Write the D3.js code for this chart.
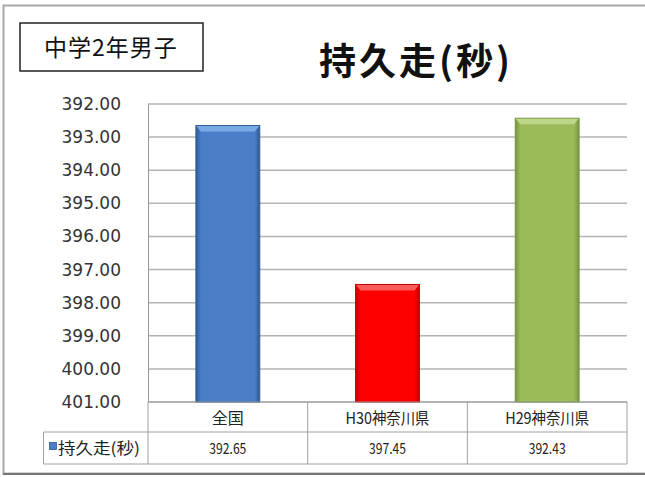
<!DOCTYPE html>
<html><head><meta charset="utf-8">
<script src="https://cdn.jsdelivr.net/npm/d3@7"></script>
<style>html,body{margin:0;padding:0;background:#fff;}svg{display:block;}</style>
</head><body>
<script>
const categories = ["全国", "H30神奈川県", "H29神奈川県"];
const values = [392.65, 397.45, 392.43];
const valueLabels = ["392.65", "397.45", "392.43"];
const seriesName = "持久走(秒)";
const yTicks = [392, 393, 394, 395, 396, 397, 398, 399, 400, 401];
const chartTitle = "持久走(秒)";
const subtitle = "中学2年男子";
const barColors = [
  {main:"#4a7ec9", light:"#7aaae6", dark:"#2d5a97"},
  {main:"#ff0000", light:"#ff5a5a", dark:"#c40000"},
  {main:"#9bbb59", light:"#bcd68a", dark:"#76933c"}
];

const W = 645, H = 477;
const svg = d3.select("body").append("svg").attr("width", W).attr("height", H);
const defs = svg.append("defs");

// frame
svg.append("rect").attr("x",3.5).attr("y",5.5).attr("width",660).attr("height",468)
  .attr("fill","#fff").attr("stroke","#a8a8a8").attr("stroke-width",2);
svg.append("line").attr("x1",3).attr("x2",645).attr("y1",474).attr("y2",474).attr("stroke","#777").attr("stroke-width",2);

const pLeft = 148, pRight = 627, pTop = 104, pBottom = 402;
const y = d3.scaleLinear().domain([392, 401]).range([pTop, pBottom]);
const x = d3.scaleBand().domain(categories).range([pLeft, pRight]).paddingInner(0.6).paddingOuter(0.3);

// gridlines
svg.append("g").selectAll("line").data(yTicks).join("line")
  .attr("x1", pLeft).attr("x2", pRight).attr("y1", d=>y(d)).attr("y2", d=>y(d))
  .attr("stroke", "#b4b4b4").attr("stroke-width", 1.5);

// y axis
const yAxis = svg.append("g").attr("transform", `translate(${pLeft},0)`)
  .call(d3.axisLeft(y).tickValues(yTicks).tickFormat(d3.format(".2f")).tickSize(0).tickPadding(27));
yAxis.select(".domain").attr("stroke", "#999").attr("stroke-width", 1);
yAxis.selectAll("text").attr("font-family", "DejaVu Sans, Verdana, sans-serif")
  .attr("font-size", 17).attr("fill", "#333");

// bars
const bars = svg.append("g");
categories.forEach((c, i) => {
  const col = barColors[i];
  const gid = "g" + i;
  const g = defs.append("linearGradient").attr("id", gid).attr("x1","0").attr("x2","1").attr("y1","0").attr("y2","0");
  g.append("stop").attr("offset","0").attr("stop-color", col.dark);
  g.append("stop").attr("offset","0.08").attr("stop-color", col.main);
  g.append("stop").attr("offset","0.92").attr("stop-color", col.main);
  g.append("stop").attr("offset","1").attr("stop-color", col.dark);
  const bx = x(c), bw = x.bandwidth(), by = y(values[i]), bh = y(401) - y(values[i]);
  bars.append("rect").attr("x", bx).attr("y", by).attr("width", bw).attr("height", bh)
    .attr("fill", `url(#${gid})`).attr("stroke", col.dark).attr("stroke-width", 1);
  bars.append("path")
    .attr("d", `M${bx+0.5},${by+0.5} L${bx+bw-0.5},${by+0.5} L${bx+bw-5},${by+6} L${bx+5},${by+6} Z`)
    .attr("fill", col.light);
});

// data table
const tbl = svg.append("g").attr("fill","none").attr("stroke","#a0a0a0").attr("stroke-width",1);
const step = x.step();
const rowTop = pBottom, rowMid = 432, rowBot = 464, legLeft = 43.5;
tbl.append("line").attr("x1", pLeft).attr("x2", pRight).attr("y1", rowTop).attr("y2", rowTop);
tbl.append("line").attr("x1", legLeft).attr("x2", pRight).attr("y1", rowMid).attr("y2", rowMid);
tbl.append("line").attr("x1", legLeft).attr("x2", pRight).attr("y1", rowBot).attr("y2", rowBot);
tbl.append("line").attr("x1", legLeft).attr("x2", legLeft).attr("y1", rowMid).attr("y2", rowBot);
[0,1,2,3].forEach(k => {
  const xx = pLeft + k*step;
  tbl.append("line").attr("x1", xx).attr("x2", xx).attr("y1", rowTop).attr("y2", rowBot);
});

const txt = svg.append("g").attr("font-family", "'Noto Sans CJK JP', sans-serif").attr("fill", "#222").attr("text-anchor","middle");
categories.forEach((c, i) => {
  const cx = pLeft + (i + 0.5) * step;
  const t = txt.append("text").attr("x", cx).attr("y", 424).attr("font-size", 16).text(c);
  if (c.length > 2) t.attr("textLength", 84).attr("lengthAdjust", "spacingAndGlyphs");
  txt.append("text").attr("x", cx).attr("y", 454).attr("font-size", 15)
    .attr("textLength", 37).attr("lengthAdjust", "spacingAndGlyphs").text(valueLabels[i]);
});
svg.append("rect").attr("x", 49.5).attr("y", 442.5).attr("width", 7).attr("height", 7).attr("fill", barColors[0].main).attr("stroke", barColors[0].dark).attr("stroke-width",0.8);
svg.append("text").attr("x", 58).attr("y", 454).attr("font-family", "'Noto Sans CJK JP', sans-serif")
  .attr("font-size", 16).attr("fill", "#222").attr("textLength", 82).attr("lengthAdjust","spacingAndGlyphs").text(seriesName);

// subtitle box
svg.append("rect").attr("x", 20).attr("y", 23).attr("width", 183).attr("height", 48)
  .attr("fill", "#fff").attr("stroke", "#222").attr("stroke-width", 1.5);
svg.append("text").attr("x", 111).attr("y", 56).attr("text-anchor","middle")
  .attr("font-family", "'Noto Sans CJK JP', sans-serif").attr("font-size", 23).attr("letter-spacing", 1).attr("fill", "#111").text(subtitle);

// title
svg.append("text").attr("x", 416).attr("y", 75).attr("text-anchor","middle")
  .attr("font-family", "'Noto Sans CJK JP', sans-serif").attr("font-weight", "bold")
  .attr("font-size", 37).attr("letter-spacing", 3).attr("fill", "#111").text(chartTitle);
</script>
</body></html>
